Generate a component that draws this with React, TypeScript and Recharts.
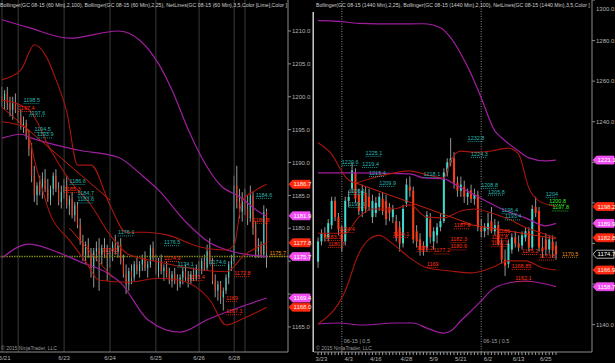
import React from 'react';
import { ComposedChart, Bar, Line, XAxis, YAxis, ReferenceLine, ReferenceDot } from 'recharts';

// ---------- LEFT PANEL (GC 08-15, 60 Min) : [open, high, low, close] ----------
const leftBars: [number, number, number, number][] = [
  [1200, 1201.5, 1198.5, 1199.5], [1199.5, 1201, 1198, 1200.5], [1200.5, 1201.5, 1198, 1199], [1199, 1200, 1197, 1198],
  [1198, 1200, 1196.5, 1199], [1199, 1200.5, 1197.5, 1198], [1198, 1199, 1196, 1197], [1197, 1198, 1195, 1195.5],
  [1195.5, 1197, 1194.5, 1196], [1196, 1196.5, 1193.5, 1194], [1194, 1195, 1191, 1192], [1192, 1193, 1187, 1188],
  [1188, 1189.5, 1184, 1185], [1185, 1187, 1183.5, 1186.5], [1186.5, 1188, 1185, 1185.5], [1185.5, 1188.5, 1184.5, 1187.5],
  [1187.5, 1189, 1185.5, 1186], [1186, 1187.5, 1184, 1184.5], [1184.5, 1186.5, 1183.5, 1186], [1186, 1188.5, 1185, 1188],
  [1188, 1189, 1185.5, 1186], [1186, 1187, 1183.5, 1184], [1184, 1186.5, 1183, 1185.5], [1185.5, 1187.5, 1184.5, 1186.5],
  [1186.5, 1188, 1183, 1183.5], [1183.5, 1185, 1182, 1184.5], [1184.5, 1185.5, 1181.5, 1182], [1182, 1184, 1181, 1183.5],
  [1183.5, 1184, 1180, 1180.5], [1180.5, 1181.5, 1177.5, 1178], [1178, 1179, 1175, 1176], [1176, 1178, 1174.5, 1177.5],
  [1177.5, 1178.5, 1175.5, 1176], [1176, 1177, 1172.5, 1174], [1174, 1177, 1171, 1176.5], [1176.5, 1178, 1175, 1177],
  [1177, 1178.5, 1170.5, 1176], [1176, 1177.5, 1174.5, 1177], [1177, 1178.5, 1175.5, 1176], [1176, 1177.5, 1172, 1175.5],
  [1175.5, 1177, 1174, 1176.5], [1176.5, 1178, 1175, 1177.5], [1177.5, 1179, 1176, 1176.5], [1176.5, 1178, 1175.5, 1177.5],
  [1177.5, 1178.5, 1174.5, 1175], [1175, 1176, 1172.5, 1173], [1173, 1174.5, 1170, 1171.5], [1171.5, 1174, 1170.5, 1173.5],
  [1173.5, 1174.5, 1171.5, 1172.5], [1172.5, 1175, 1172, 1174.5], [1174.5, 1175.5, 1173, 1173.5], [1173.5, 1175, 1172.5, 1174.5],
  [1174.5, 1176, 1173.5, 1175.5], [1175.5, 1176.5, 1173.5, 1174], [1174, 1175, 1172.5, 1174.5], [1174.5, 1177.5, 1174, 1177],
  [1177, 1178, 1175, 1175.5], [1175.5, 1176, 1173, 1173.5], [1173.5, 1175.5, 1172.5, 1175], [1175, 1176, 1173, 1173.5],
  [1173.5, 1174.5, 1172, 1174], [1174, 1175, 1172.5, 1173], [1173, 1174, 1171.5, 1172], [1172, 1173.5, 1171, 1173],
  [1173, 1174, 1171.5, 1172], [1172, 1173, 1170.5, 1171.5], [1171.5, 1173, 1171, 1172.5], [1172.5, 1174, 1171.5, 1173.5],
  [1173.5, 1174.5, 1172, 1172.5], [1172.5, 1173.5, 1171, 1172], [1172, 1173.5, 1171.5, 1173], [1173, 1174, 1172, 1172.5],
  [1172.5, 1174.5, 1172, 1174], [1174, 1175, 1172.5, 1173.5], [1173.5, 1175.5, 1173, 1175], [1175, 1176, 1173.5, 1174],
  [1174, 1177.5, 1173.5, 1176.5], [1176.5, 1178.5, 1174.5, 1175], [1175, 1175.5, 1171.5, 1172], [1172, 1173, 1169.5, 1170.5],
  [1170.5, 1172, 1169, 1171.5], [1171.5, 1172, 1168.5, 1169.5], [1169.5, 1171, 1167.5, 1170.5], [1170.5, 1173, 1170, 1172.5],
  [1172.5, 1175, 1171.5, 1174.5], [1174.5, 1176, 1173.5, 1175], [1175, 1188, 1174.5, 1186.5], [1186.5, 1189.5, 1183, 1184],
  [1184, 1186, 1181.5, 1182.5], [1182.5, 1185.5, 1181, 1184.5], [1184.5, 1186, 1182, 1183], [1183, 1185, 1180.5, 1181.5],
  [1181.5, 1186.5, 1181, 1185], [1185, 1185.5, 1179, 1180], [1180, 1181, 1175.5, 1176.5], [1176.5, 1178.5, 1175.5, 1177.5],
  [1177.5, 1178, 1175.5, 1176], [1176, 1183.5, 1175.5, 1182.5], [1182.5, 1183, 1174, 1176.3],
];

// Bollinger knots: [bar index, price]
const leftPurpleUpper: [number, number][] = [[0, 1211.7], [10, 1210.5], [25, 1208.9], [43, 1210], [51, 1208.6], [58, 1205], [63, 1201], [69, 1195], [75, 1190], [81, 1186.5], [88, 1184.8], [96, 1182.3], [98, 1181.9]];
const leftPurpleMid: [number, number][] = [[0, 1193.7], [7, 1194.3], [11, 1193.7], [28, 1191.9], [43, 1190.8], [52, 1188], [58, 1185.8], [68, 1181], [77, 1177.8], [86, 1176.4], [98, 1175.7]];
const leftPurpleLower: [number, number][] = [[0, 1175.5], [10, 1177.6], [21, 1176.3], [29, 1174.9], [39, 1173.2], [44, 1171.7], [54, 1166.1], [66, 1164.2], [76, 1166.1], [88, 1168], [98, 1169.4]];
const leftRedUpper: [number, number][] = [[0, 1202.6], [7, 1204.1], [12, 1207.9], [16, 1206.4], [20, 1202.6], [24, 1197.7], [28, 1189.6], [33, 1189.6], [40, 1183.5], [46, 1179.4], [53, 1179.4], [61, 1179], [73, 1177.2], [83, 1176.7], [86, 1177.5], [89, 1184.3], [94, 1185.8], [98, 1186.7]];
const leftRedMid: [number, number][] = [[0, 1199.5], [10, 1198], [18, 1191.9], [25, 1187.3], [33, 1183.5], [40, 1179], [47, 1176], [58, 1174.9], [73, 1173.7], [83, 1173.4], [90, 1176], [98, 1177.8]];
const leftRedLower: [number, number][] = [[0, 1196.2], [9, 1195.3], [12, 1190.4], [18, 1182], [25, 1178.2], [31, 1174.9], [36, 1172.1], [47, 1171.8], [58, 1172.4], [66, 1172.1], [77, 1169.1], [83, 1165.3], [90, 1166.4], [98, 1168]];
const leftTrendLines: [number, number, number, number][] = [[0, 1198.4, 40, 1184.3], [25, 1180, 41, 1172.5]];

const leftYTicks = [1165, 1170, 1175, 1180, 1185, 1190, 1195, 1200, 1205, 1210];
const leftDateTicks = [1, 23, 40, 57, 73, 86];
const leftDateLabels = ['6/21', '6/23', '6/24', '6/25', '6/26', '6/28'];
const leftGridBars = [0, 6, 23, 40, 57, 73, 86, 90];
const leftNetLevel = 1175.7;
const leftFlags: [number, string][] = [[1186.7, 'red'], [1181.9, 'mag'], [1177.8, 'red'], [1175.7, 'mag'], [1169.4, 'mag'], [1168.0, 'red']];
const leftTags: { i: number; v: number; t: string; c: string; dx?: number }[] = [
  { i: 8, v: 1199.5, t: '1198.5', c: 'cyan' }, { i: 6, v: 1198.3, t: '1197.4', c: 'red' },
  { i: 10, v: 1197.6, t: '1197.6', c: 'cyan' }, { i: 12, v: 1195.1, t: '1194.5', c: 'cyan' },
  { i: 13, v: 1194.3, t: '1193.9', c: 'cyan' }, { i: 25, v: 1187.2, t: '1186.6', c: 'cyan' },
  { i: 23, v: 1186, t: '1185.3', c: 'red' }, { i: 28, v: 1185.4, t: '1184.7', c: 'cyan' },
  { i: 28, v: 1184.4, t: '1183.6', c: 'cyan' }, { i: 43, v: 1179.4, t: '1176.1', c: 'cyan' },
  { i: 60, v: 1177.9, t: '1176.5', c: 'cyan' }, { i: 60, v: 1175.5, t: '1174.9', c: 'red' },
  { i: 37, v: 1176.7, t: '1174.3', c: 'red' }, { i: 65, v: 1174.6, t: '1174.1', c: 'cyan' },
  { i: 69, v: 1172.6, t: '1173.4', c: 'red' }, { i: 77, v: 1174.9, t: '1174.6', c: 'cyan' },
  { i: 86, v: 1173.2, t: '1172.8', c: 'red' }, { i: 83, v: 1169.4, t: '1169', c: 'red' },
  { i: 83, v: 1167.4, t: '1167.1', c: 'red' }, { i: 94, v: 1185.1, t: '1184.6', c: 'cyan' },
  { i: 93, v: 1181.3, t: '1180.8', c: 'red' }, { i: 98, v: 1176.3, t: '1175.7', c: 'orange', dx: 3 },
];

// ---------- RIGHT PANEL (GC 08-15, 1440 Min) : [open, high, low, close] ----------
const rightBars: [number, number, number, number][] = [
  [1171, 1183, 1168, 1181], [1181, 1187, 1179, 1185], [1185, 1188, 1181, 1183], [1183, 1192, 1181, 1190],
  [1189, 1203, 1187, 1201], [1201, 1203, 1191, 1193], [1193, 1195, 1184, 1187], [1187, 1189, 1176, 1181],
  [1181, 1203, 1179, 1201], [1201, 1206, 1198, 1203], [1207, 1220, 1205, 1216], [1215, 1217, 1200, 1202],
  [1204, 1207, 1194, 1196], [1196, 1209, 1193, 1206], [1205, 1208, 1195, 1197], [1203, 1207, 1196, 1198],
  [1193, 1204, 1190, 1201], [1195, 1203, 1193, 1200], [1198, 1205, 1196, 1203], [1202, 1205, 1194, 1196],
  [1201, 1204, 1189, 1192], [1198, 1200, 1191, 1195], [1193, 1199, 1190, 1197], [1191, 1194, 1181, 1183],
  [1188, 1191, 1176, 1180], [1180, 1199, 1178, 1197], [1200, 1212, 1198, 1209], [1208, 1213, 1203, 1206],
  [1206, 1208, 1180, 1182], [1186, 1189, 1178, 1181], [1182, 1185, 1174, 1177], [1179, 1181, 1174, 1176],
  [1178, 1196, 1176, 1194], [1192, 1195, 1180, 1183], [1181, 1188, 1177, 1186], [1184, 1190, 1180, 1188],
  [1188, 1195, 1186, 1191], [1191, 1217, 1190, 1215], [1215, 1222, 1213, 1220], [1220, 1232, 1218, 1222],
  [1222, 1225, 1207, 1210], [1210, 1213, 1203, 1206], [1206, 1213, 1203, 1209], [1208, 1211, 1200, 1203],
  [1203, 1207, 1199, 1205], [1206, 1209, 1200, 1202], [1202, 1207, 1199, 1204], [1204, 1206, 1186, 1188],
  [1188, 1192, 1183, 1186], [1186, 1190, 1183, 1188], [1187, 1195, 1184, 1190], [1191, 1198, 1185, 1186],
  [1186, 1192, 1184, 1189], [1189, 1191, 1179, 1180], [1180, 1182, 1170, 1172], [1172, 1177, 1164, 1169],
  [1170, 1182, 1168, 1180], [1177, 1185, 1175, 1183], [1183, 1186, 1178, 1180], [1180, 1184, 1176, 1178],
  [1179, 1186, 1177, 1184], [1183, 1188, 1181, 1186], [1186, 1188, 1176, 1178], [1178, 1199, 1177, 1197],
  [1198, 1203, 1193, 1195], [1196, 1198, 1176, 1178], [1178, 1183, 1173, 1176], [1182, 1185, 1174, 1177],
  [1177, 1184, 1175, 1182], [1181, 1184, 1173, 1176.5], [1179, 1181, 1172, 1174.7],
];

const rightPurpleUpper: [number, number][] = [[0, 1289.8], [6, 1289.5], [12, 1288.5], [23, 1288.2], [31, 1288.3], [36, 1286.3], [39, 1281.4], [42, 1273.5], [45, 1263.6], [48, 1251.8], [52, 1235.5], [54, 1232.1], [59, 1225.6], [62, 1222.2], [67, 1220.7], [70, 1221.1]];
const rightPurpleMid: [number, number][] = [[0, 1214.8], [10, 1214.8], [27, 1214.3], [31, 1212.3], [37, 1211.8], [41, 1208.4], [45, 1204.9], [54, 1197], [61, 1192.6], [67, 1188.7], [70, 1189.9]];
const rightPurpleLower: [number, number][] = [[0, 1140.3], [6, 1140.8], [13, 1139.8], [23, 1140.8], [28, 1140.8], [32, 1138.3], [37, 1135.8], [39, 1136.8], [42, 1141.8], [48, 1151.7], [51, 1157], [56, 1160.5], [61, 1161.5], [67, 1160], [70, 1158.7]];
const rightRedUpper: [number, number][] = [[0, 1229.6], [4, 1224], [8, 1213], [11, 1209.9], [15, 1211.8], [21, 1214.3], [27, 1215.8], [31, 1214.3], [37, 1212.3], [39, 1220.7], [42, 1225.5], [46, 1225], [51, 1225.6], [56, 1227], [59, 1224], [62, 1207.4], [65, 1201], [70, 1198.2]];
const rightRedMid: [number, number][] = [[0, 1185], [8, 1185], [12, 1193], [16, 1197], [22, 1197], [27, 1199], [32, 1193], [37, 1192.6], [42, 1196], [46, 1197], [51, 1195], [56, 1192], [61, 1188], [66, 1185], [70, 1182.8]];
const rightRedLower: [number, number][] = [[0, 1140.3], [8, 1156.6], [12, 1175], [15, 1182], [18, 1184], [22, 1179.8], [27, 1172.9], [32, 1168], [39, 1166.4], [45, 1165.5], [51, 1168], [56, 1171.4], [61, 1171.4], [66, 1168], [70, 1166.9]];
const rightTrendLines: [number, number, number, number][] = [[11, 1209.9, 45, 1189.5], [42, 1190, 70, 1182.3]];

const rightYTicks = [1130, 1140, 1150, 1160, 1170, 1180, 1190, 1200, 1210, 1220, 1230, 1240, 1250, 1260, 1270, 1280, 1290, 1300];
const rightDateTicks = [1, 9, 17, 26, 34, 42, 50, 59, 67];
const rightDateLabels = ['3/23', '4/3', '4/16', '4/28', '5/9', '5/21', '6/2', '6/13', '6/25'];
const rightRollBars = [7, 48];
const rightRollText = '06-15 | 0.5';
const rightFlags: [number, string][] = [[1221.1, 'mag'], [1198.2, 'red'], [1189.9, 'mag'], [1182.8, 'red'], [1174.7, 'last'], [1166.9, 'red'], [1158.7, 'mag']];
const rightTags: { i: number; v: number; t: string; c: string; dx?: number }[] = [
  { i: 7, v: 1220.2, t: '1220.6', c: 'cyan' }, { i: 14, v: 1224.7, t: '1225.1', c: 'cyan' },
  { i: 13, v: 1219.2, t: '1219.4', c: 'cyan' }, { i: 15, v: 1214.8, t: '1215.4', c: 'cyan' },
  { i: 31, v: 1214.3, t: '1218.1', c: 'cyan' }, { i: 18, v: 1209.9, t: '1209.9', c: 'cyan' },
  { i: 9, v: 1205.9, t: '1206.1', c: 'cyan' }, { i: 9, v: 1199.5, t: '1199.6', c: 'cyan' },
  { i: 6, v: 1187.2, t: '1184.4', c: 'red' }, { i: 2, v: 1183.2, t: '1183.3', c: 'red' },
  { i: 3, v: 1179.8, t: '1180.7', c: 'red' }, { i: 22, v: 1184.7, t: '1184.1', c: 'red' },
  { i: 40, v: 1189, t: '1187.9', c: 'red' }, { i: 39, v: 1182.2, t: '1182.3', c: 'red' },
  { i: 39, v: 1178.6, t: '1180.6', c: 'red' }, { i: 29, v: 1177.8, t: '1176.2', c: 'red' },
  { i: 34, v: 1176.6, t: '1177.2', c: 'red' }, { i: 32, v: 1170, t: '1169', c: 'red' },
  { i: 44, v: 1232, t: '1232.8', c: 'cyan' }, { i: 45, v: 1224.2, t: '1224.3', c: 'cyan' },
  { i: 48, v: 1208.9, t: '1208.8', c: 'cyan' }, { i: 50, v: 1205.6, t: '1205.8', c: 'cyan' },
  { i: 54, v: 1196.6, t: '1196.4', c: 'cyan' }, { i: 55, v: 1193.4, t: '1193.4', c: 'cyan' },
  { i: 53, v: 1186.2, t: '1186', c: 'red' }, { i: 51, v: 1183.3, t: '1182.8', c: 'red' },
  { i: 51, v: 1180.2, t: '1180.2', c: 'red' }, { i: 57, v: 1168.9, t: '1168.85', c: 'red' },
  { i: 58, v: 1163, t: '1162.1', c: 'red' }, { i: 60, v: 1176.3, t: '1175.2', c: 'red' },
  { i: 65, v: 1173.6, t: '1173.5', c: 'red' }, { i: 67, v: 1204.5, t: '1204', c: 'cyan' },
  { i: 68, v: 1201, t: '1200.8', c: 'lime' }, { i: 69, v: 1197.8, t: '1197.8', c: 'lime' },
  { i: 70, v: 1175, t: '1170.5', c: 'orange', dx: 6 },
];

const leftHeader = 'Bollinger(GC 08-15 (60 Min),2,100), Bollinger(GC 08-15 (60 Min),2,25), NetLines(GC 08-15 (60 Min),3,5,Color [Lime],Color ]';
const rightHeader = 'Bollinger(GC 08-15 (1440 Min),2,25), Bollinger(GC 08-15 (1440 Min),2,100), NetLines(GC 08-15 (1440 Min),3,5,Color [';
const copyright = '\u00A9 2015 NinjaTrader, LLC';

// ---------- styles ----------
const UP = '#3fd9cf';
const DOWN = '#ff3a14';
const WICK = '#a8a8a8';
const PURPLE = '#a01ea0';
const BAND_RED = '#a8160c';
const TREND = '#c8200e';
const AX = '#b4b4b4';
const AXLINE = '#8a8a8a';
const TAG_COLORS: Record<string, string> = { cyan: '#27b6b0', red: '#ff2c12', lime: '#33ee22', orange: '#e8900e' };
const FLAG_STYLE: Record<string, { fill: string; stroke: string; text: string }> = {
  red: { fill: '#ff2a10', stroke: '#ff2a10', text: '#ffe8e0' },
  mag: { fill: '#f24ef2', stroke: '#f24ef2', text: '#ffffff' },
  last: { fill: '#000000', stroke: '#e0e0e0', text: '#ffffff' },
};

type Row = { [k: string]: number | undefined } & { i: number };

function buildRows(bars: [number, number, number, number][], bands: Record<string, [number, number][]>): Row[] {
  const rows: Row[] = bars.map(([o, h, l, c], i) => ({ i, o, h, l, c }));
  Object.keys(bands).forEach((key) => {
    bands[key].forEach(([i, v]) => {
      if (rows[i]) rows[i][key] = v;
    });
  });
  return rows;
}

const leftRows = buildRows(leftBars, {
  pu: leftPurpleUpper, pm: leftPurpleMid, pl: leftPurpleLower,
  ru: leftRedUpper, rm: leftRedMid, rl: leftRedLower,
});
const rightRows = buildRows(rightBars, {
  pu: rightPurpleUpper, pm: rightPurpleMid, pl: rightPurpleLower,
  ru: rightRedUpper, rm: rightRedMid, rl: rightRedLower,
});

const Candle = (props: any) => {
  const { x, y, width, height, payload } = props;
  if (!payload || x == null || y == null) return null;
  const { o, h, l, c } = payload;
  const top = Math.min(y, y + height);
  const hh = Math.abs(height);
  const py = (v: number) => (h === l ? top : top + ((h - v) / (h - l)) * hh);
  const up = c >= o;
  const cx = x + width / 2;
  const yo = py(o);
  const yc = py(c);
  const bt = Math.min(yo, yc);
  const bh = Math.max(1, Math.abs(yo - yc));
  return (
    <g>
      <line x1={cx} x2={cx} y1={top} y2={top + hh} stroke={WICK} strokeWidth={0.9} />
      <rect x={x} y={bt} width={width} height={bh} fill={up ? UP : DOWN} />
    </g>
  );
};

const Flag = (props: any) => {
  const { viewBox, val, kind } = props;
  if (!viewBox) return null;
  const st = FLAG_STYLE[kind];
  const x = viewBox.x + viewBox.width;
  const y = viewBox.y;
  return (
    <g>
      <path
        d={`M${x + 1},${y} L${x + 4.5},${y - 4} L${x + 22},${y - 4} L${x + 22},${y + 4} L${x + 4.5},${y + 4} Z`}
        fill={st.fill}
        stroke={st.stroke}
        strokeWidth={0.8}
      />
      <text x={x + 5.5} y={y + 2.2} fontSize={6} fill={st.text}>
        {val.toFixed(1)}
      </text>
    </g>
  );
};

const Tag = ({ cx, cy, t, c, dx = 0 }: any) => {
  if (cx == null || cy == null) return null;
  const col = TAG_COLORS[c];
  const x0 = cx + dx;
  return (
    <g>
      <text x={x0} y={cy + 2} fontSize={5.5} fill={col}>
        {t}
      </text>
      <line x1={x0} x2={x0 + t.length * 2.7} y1={cy + 3.6} y2={cy + 3.6} stroke={col} strokeWidth={0.8} strokeDasharray="1 1" />
    </g>
  );
};

const RollLabel = (props: any) => {
  const { viewBox, text } = props;
  if (!viewBox) return null;
  return (
    <text x={viewBox.x + 2} y={viewBox.y + viewBox.height - 9} fontSize={5.5} fill="#a0a0a0">
      {text}
    </text>
  );
};

function makeYTick(flags: [number, string][], pxPerUnit: number) {
  return (props: any) => {
    const { x, y, payload } = props;
    const v = payload.value as number;
    if (flags.some(([f]) => Math.abs(f - v) * pxPerUnit < 6)) return null;
    return (
      <text x={x} y={Math.max(y, 5)} dy={2.1} fontSize={6} fill={AX} textAnchor="start">
        {v.toFixed(1)}
      </text>
    );
  };
}

const leftDomain: [number, number] = [1161.19, 1214.71];
const rightDomain: [number, number] = [1126.5, 1300];
const LeftYTick = makeYTick(leftFlags, 352 / (leftDomain[1] - leftDomain[0]));
const RightYTick = makeYTick(rightFlags, 352 / (rightDomain[1] - rightDomain[0]));

const LeftXTick = (props: any) => {
  const { x, y, payload } = props;
  const k = leftDateTicks.indexOf(payload.value);
  if (k < 0) return null;
  return (
    <text x={x} y={y} dy={4.5} fontSize={6} fill={AX} textAnchor="middle">
      {leftDateLabels[k]}
    </text>
  );
};
const RightXTick = (props: any) => {
  const { x, y, payload } = props;
  const k = rightDateTicks.indexOf(payload.value);
  if (k < 0) return null;
  return (
    <text x={x} y={y} dy={4.5} fontSize={6} fill={AX} textAnchor="middle">
      {rightDateLabels[k]}
    </text>
  );
};

const bandLines = (prefix: string) => [
  <Line key={prefix + 'pu'} dataKey="pu" type="monotone" stroke={PURPLE} strokeWidth={1.2} dot={false} activeDot={false} connectNulls isAnimationActive={false} />,
  <Line key={prefix + 'pm'} dataKey="pm" type="monotone" stroke={PURPLE} strokeWidth={1.2} dot={false} activeDot={false} connectNulls isAnimationActive={false} />,
  <Line key={prefix + 'pl'} dataKey="pl" type="monotone" stroke={PURPLE} strokeWidth={1.2} dot={false} activeDot={false} connectNulls isAnimationActive={false} />,
  <Line key={prefix + 'ru'} dataKey="ru" type="monotone" stroke={BAND_RED} strokeWidth={1.1} dot={false} activeDot={false} connectNulls isAnimationActive={false} />,
  <Line key={prefix + 'rm'} dataKey="rm" type="monotone" stroke={BAND_RED} strokeWidth={1.1} dot={false} activeDot={false} connectNulls isAnimationActive={false} />,
  <Line key={prefix + 'rl'} dataKey="rl" type="monotone" stroke={BAND_RED} strokeWidth={1.1} dot={false} activeDot={false} connectNulls isAnimationActive={false} />,
];

export default function App() {
  const rightAllTicks = rightRows.map((r) => r.i);
  return (
    <div
      style={{
        position: 'fixed', left: 0, top: 0, width: 615, height: 363, background: '#000', overflow: 'hidden',
        fontFamily: '"Liberation Sans", Arial, sans-serif',
      }}
    >
      <div style={{ position: 'absolute', left: 0, top: 0 }}>
        <ComposedChart width={312} height={363} data={leftRows} margin={{ top: 0, right: 0, bottom: 0, left: 0 }} barCategoryGap="28%">
          <XAxis
            dataKey="i" type="category" ticks={leftDateTicks} interval={0} height={11}
            tickSize={0} tickMargin={3} padding={{ left: 0.65, right: 20.05 }}
            axisLine={{ stroke: AXLINE }} tick={<LeftXTick />}
          />
          <YAxis
            orientation="right" type="number" domain={leftDomain} allowDataOverflow ticks={leftYTicks}
            width={24} tickSize={3} tickMargin={1} axisLine={{ stroke: AXLINE }} tickLine={{ stroke: AXLINE }}
            tick={<LeftYTick />}
          />
          {leftGridBars.map((g) => (
            <ReferenceLine key={'g' + g} x={g} stroke="#3a3a3a" strokeWidth={1} />
          ))}
          <ReferenceLine y={leftNetLevel} stroke="#7c8418" strokeWidth={1.6} strokeDasharray="1.5 1" />
          <Bar dataKey={(d: any) => [d.l, d.h]} shape={<Candle />} isAnimationActive={false} />
          {bandLines('l')}
          {leftTrendLines.map(([a, av, b, bv], k) => (
            <ReferenceLine key={'lt' + k} segment={[{ x: a, y: av }, { x: b, y: bv }]} stroke={TREND} strokeWidth={1} />
          ))}
          {leftTags.map((t, k) => (
            <ReferenceDot key={'ltag' + k} x={t.i} y={t.v} r={0} shape={(p: any) => <Tag cx={p.cx} cy={p.cy} t={t.t} c={t.c} dx={t.dx} />} />
          ))}
          {leftFlags.map(([v, kind]) => (
            <ReferenceLine key={'lf' + v} y={v} stroke="transparent" label={<Flag val={v} kind={kind} />} />
          ))}
        </ComposedChart>
      </div>

      <div style={{ position: 'absolute', left: 314, top: 0 }}>
        <ComposedChart width={301} height={363} data={rightRows} margin={{ top: 0, right: 0, bottom: 0, left: 0 }} barCategoryGap="22%">
          <XAxis
            dataKey="i" type="category" ticks={rightAllTicks} interval={0} height={11}
            tickSize={3} tickMargin={1} padding={{ left: 2.3, right: 34.3 }}
            axisLine={{ stroke: AXLINE }} tickLine={{ stroke: '#9a9a9a' }} tick={<RightXTick />}
          />
          <YAxis
            orientation="right" type="number" domain={rightDomain} allowDataOverflow ticks={rightYTicks}
            width={23} tickSize={3} tickMargin={1} axisLine={{ stroke: AXLINE }} tickLine={{ stroke: AXLINE }}
            tick={<RightYTick />}
          />
          {rightRollBars.map((g) => (
            <ReferenceLine key={'roll' + g} x={g} stroke="#8a8a8a" strokeDasharray="1 1.5" label={<RollLabel text={rightRollText} />} />
          ))}
          <Bar dataKey={(d: any) => [d.l, d.h]} shape={<Candle />} isAnimationActive={false} />
          {bandLines('r')}
          {rightTrendLines.map(([a, av, b, bv], k) => (
            <ReferenceLine key={'rt' + k} segment={[{ x: a, y: av }, { x: b, y: bv }]} stroke={TREND} strokeWidth={1} />
          ))}
          {rightTags.map((t, k) => (
            <ReferenceDot key={'rtag' + k} x={t.i} y={t.v} r={0} shape={(p: any) => <Tag cx={p.cx} cy={p.cy} t={t.t} c={t.c} dx={t.dx} />} />
          ))}
          {rightFlags.map(([v, kind]) => (
            <ReferenceLine key={'rf' + v} y={v} stroke="transparent" label={<Flag val={v} kind={kind} />} />
          ))}
        </ComposedChart>
      </div>

      <svg width={615} height={363} style={{ position: 'absolute', left: 0, top: 0, pointerEvents: 'none' }}>
        <line x1={313.2} x2={313.2} y1={12} y2={352} stroke="#d8d8d8" strokeWidth={1.4} />
        <text x={0} y={7} fontSize={4.9} fill="#cfcfcf" textLength={287} lengthAdjust="spacingAndGlyphs">
          {leftHeader}
        </text>
        <text x={316} y={7} fontSize={4.9} fill="#cfcfcf" textLength={274} lengthAdjust="spacingAndGlyphs">
          {rightHeader}
        </text>
        <text x={1} y={350} fontSize={5.5} fill="#9a9a9a" textLength={56} lengthAdjust="spacingAndGlyphs">
          {copyright}
        </text>
        <text x={316} y={350} fontSize={5.5} fill="#9a9a9a" textLength={56} lengthAdjust="spacingAndGlyphs">
          {copyright}
        </text>
      </svg>
    </div>
  );
}
